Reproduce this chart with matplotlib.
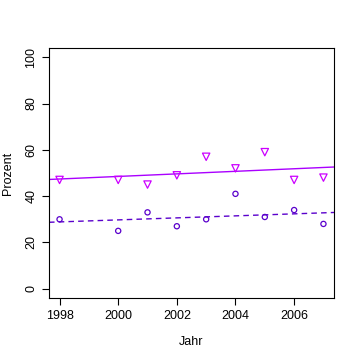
import numpy as np
import matplotlib
matplotlib.use("Agg")
import matplotlib.pyplot as plt

plt.rcParams["font.family"] = ["Liberation Sans", "DejaVu Sans"]

# data
years = [1998, 2000, 2001, 2002, 2003, 2004, 2005, 2006, 2007]
upper = [47, 47, 45, 49, 57, 52, 59, 47, 48]
lower = [30, 25, 33, 27, 30, 41, 31, 34, 28]

col_up = "#CC00FF"
col_lo = "#5A00CC"

fig = plt.figure(figsize=(3.6, 3.6), dpi=100)
ax = fig.add_axes([49 / 360, 1 - 298 / 360, 285 / 360, 250 / 360])

ax.scatter(years, upper, marker="v", s=28, facecolors="none",
           edgecolors=col_up, linewidths=0.9, zorder=3)
ax.scatter(years, lower, marker="o", s=14, facecolors="none",
           edgecolors=col_lo, linewidths=0.9, zorder=3)

xs = np.array([1997.64, 2007.36])
k1, d1 = np.polyfit(years, upper, 1)
k2, d2 = np.polyfit(years, lower, 1)
ax.plot(xs, k1 * xs + d1, color="#AA00FF", lw=1.0)
ax.plot(xs, k2 * xs + d2, color=col_lo, lw=1.0, ls=(0, (4, 3)))

ax.set_xlim(1997.64, 2007.36)
ax.set_ylim(-4, 104)
ax.set_xticks([1998, 2000, 2002, 2004, 2006])
ax.set_yticks([0, 20, 40, 60, 80, 100])
ax.tick_params(labelsize=9, length=5, width=0.8)
plt.setp(ax.get_yticklabels(), rotation=90, va="center")
ax.set_xlabel("Jahr", fontsize=9, labelpad=10)
ax.set_ylabel("Prozent", fontsize=9, labelpad=8)
for s in ax.spines.values():
    s.set_linewidth(0.8)

fig.savefig("out.png", dpi=100)
